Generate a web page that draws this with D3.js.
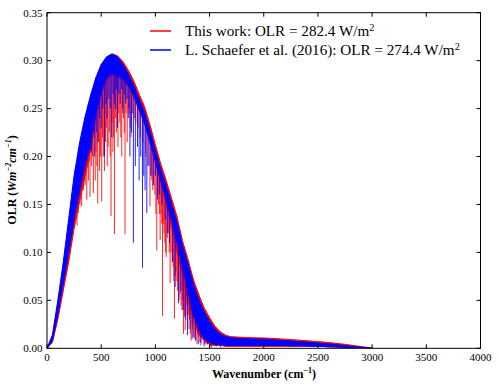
<!DOCTYPE html>
<html><head><meta charset="utf-8">
<script src="https://cdn.jsdelivr.net/npm/d3@7"></script>
<style>body{margin:0;background:#fff}svg{display:block}text{font-family:"Liberation Serif","DejaVu Serif",serif;fill:#000}</style>
</head><body><svg id="c" width="499" height="386"></svg>
<script>
const wavenumbers = [0,50,100,150,200,250,300,350,400,450,500,550,600,650,700,750,800,850,900,950,1000,1050,1100,1150,1200,1250,1300,1350,1400,1450,1500,1550,1600,1650,1700,1750,1800,1850,1900,1950,2000,2050,2100,2150,2200,2250,2300,2350,2400,2450,2500,2550,2600,2650,2700,2750,2800,2850,2900,2950,3000];
const redUpper = [0,0.012,0.045,0.082,0.125,0.168,0.205,0.236,0.26,0.28,0.294,0.303,0.307,0.305,0.299,0.29,0.279,0.265,0.252,0.233,0.212,0.192,0.175,0.156,0.137,0.112,0.093,0.072,0.056,0.042,0.032,0.023,0.017,0.0135,0.012,0.0118,0.0115,0.0113,0.011,0.0109,0.0108,0.0105,0.0102,0.0098,0.0095,0.0091,0.0087,0.0083,0.0079,0.0074,0.007,0.0065,0.006,0.0054,0.0048,0.0041,0.0034,0.0026,0.0018,0.001,0.0003];
const redLower = [0,0.006,0.03,0.06,0.09,0.125,0.153,0.178,0.205,0.24,0.265,0.28,0.285,0.283,0.28,0.273,0.262,0.248,0.234,0.214,0.193,0.172,0.15,0.125,0.1,0.075,0.05,0.03,0.015,0.008,0.004,0.003,0.003,0.002,0.002,0.002,0.002,0.002,0.002,0.002,0.002,0.002,0.002,0.002,0.002,0.002,0.002,0.002,0.002,0.002,0.002,0.0018,0.0015,0.0013,0.001,0.0008,0.0006,0.0005,0.0003,0.0002,0];
const blueUpper = [0,0.014,0.05,0.09,0.135,0.18,0.214,0.241,0.263,0.282,0.296,0.304,0.307,0.304,0.296,0.286,0.274,0.26,0.246,0.227,0.206,0.186,0.169,0.15,0.131,0.107,0.088,0.067,0.051,0.038,0.028,0.02,0.015,0.012,0.011,0.0105,0.0102,0.01,0.0098,0.0096,0.0094,0.0091,0.0088,0.0084,0.008,0.0076,0.0072,0.0068,0.0064,0.006,0.0055,0.005,0.0045,0.004,0.0034,0.0028,0.0022,0.0016,0.001,0.0005,0];
const blueLower = [0,0.008,0.035,0.068,0.1,0.135,0.163,0.19,0.21,0.245,0.268,0.283,0.287,0.285,0.282,0.275,0.264,0.25,0.236,0.216,0.195,0.175,0.155,0.133,0.11,0.085,0.06,0.035,0.02,0.01,0.006,0.004,0.004,0.003,0.003,0.003,0.003,0.003,0.003,0.003,0.003,0.003,0.003,0.003,0.003,0.0025,0.0025,0.0025,0.0025,0.002,0.002,0.002,0.0015,0.0015,0.0012,0.001,0.0008,0.0006,0.0004,0.0002,0];
// absorption lines: [wavenumber, lowest OLR]
const redDips = [[160,0.075],[172,0.085],[185,0.095],[196,0.1],[205,0.105],[214,0.11],[222,0.115],[231,0.12],[240,0.13],[250,0.125],[262,0.135],[270,0.14],[277,0.128],[289,0.141],[297,0.16],[305,0.15],[313,0.165],[320,0.148],[328,0.18],[336,0.165],[344,0.19],[352,0.17],[360,0.185],[367,0.155],[375,0.2],[382,0.175],[390,0.195],[397,0.158],[405,0.21],[412,0.19],[420,0.2],[428,0.162],[436,0.22],[445,0.175],[452,0.205],[460,0.19],[468,0.151],[476,0.215],[485,0.185],[493,0.2],[505,0.153],[512,0.22],[520,0.2],[530,0.185],[540,0.215],[548,0.23],[556,0.19],[564,0.21],[575,0.225],[583,0.2],[591,0.138],[600,0.235],[608,0.205],[615,0.22],[622,0.119],[631,0.24],[640,0.225],[648,0.25],[655,0.21],[663,0.245],[672,0.235],[681,0.22],[690,0.2],[697,0.25],[705,0.24],[713,0.225],[720,0.119],[730,0.245],[740,0.215],[750,0.25],[760,0.245],[768,0.23],[775,0.22],[790,0.245],[805,0.24],[820,0.235],[840,0.23],[860,0.22],[885,0.215],[910,0.2],[930,0.19],[950,0.148],[958,0.18],[967,0.175],[976,0.165],[985,0.17],[995,0.16],[1005,0.14],[1013,0.102],[1022,0.16],[1030,0.15],[1037,0.14],[1044,0.113],[1052,0.14],[1059,0.13],[1066,0.034],[1073,0.13],[1080,0.12],[1088,0.11],[1095,0.1],[1100,0.095],[1110,0.115],[1120,0.12],[1128,0.1],[1136,0.068],[1145,0.1],[1155,0.09],[1163,0.085],[1170,0.07],[1176,0.031],[1183,0.075],[1190,0.08],[1198,0.07],[1205,0.06],[1213,0.07],[1220,0.05],[1229,0.057],[1237,0.045],[1245,0.04],[1252,0.05],[1259,0.015],[1264,0.04],[1268,0.033],[1275,0.019],[1282,0.035],[1290,0.045],[1300,0.02],[1308,0.035],[1315,0.03],[1322,0.015],[1330,0.008],[1338,0.025],[1345,0.02],[1352,0.012],[1360,0.01],[1370,0.018],[1383,0.005],[1392,0.015],[1400,0.012],[1410,0.006],[1420,0.003],[1430,0.012],[1440,0.01],[1452,0.005],[1465,0.004],[1478,0.01],[1490,0.008],[1500,0.003],[1510,0.002],[1525,0.006],[1540,0.004],[1560,0.003],[1580,0.005],[1600,0.002]];
const blueDips = [[230,0.12],[260,0.15],[290,0.175],[320,0.19],[350,0.2],[380,0.215],[410,0.205],[440,0.2],[455,0.225],[470,0.215],[485,0.24],[500,0.23],[515,0.25],[530,0.2],[545,0.255],[555,0.24],[570,0.26],[583,0.25],[597,0.22],[610,0.265],[620,0.255],[630,0.25],[640,0.27],[650,0.23],[662,0.265],[675,0.255],[688,0.27],[700,0.245],[712,0.265],[725,0.255],[738,0.26],[750,0.24],[765,0.2],[780,0.225],[797,0.11],[815,0.19],[835,0.21],[850,0.175],[865,0.2],[881,0.084],[893,0.18],[905,0.165],[921,0.141],[940,0.19],[960,0.18],[980,0.17],[1000,0.18],[1020,0.155],[1040,0.16],[1060,0.15],[1090,0.134],[1110,0.12],[1130,0.11],[1160,0.09],[1183,0.064],[1213,0.047],[1235,0.06],[1255,0.04],[1280,0.03],[1296,0.0136],[1320,0.02],[1340,0.01],[1370,0.008],[1395,0.004],[1420,0.006],[1450,0.002],[1480,0.004],[1520,0.001],[1560,0.002],[1600,0.001]];
const xTicks = [0,500,1000,1500,2000,2500,3000,3500,4000];
const yTicks = [0,0.05,0.10,0.15,0.20,0.25,0.30,0.35];
const legendLabels = [["This work: OLR = 282.4 W/m","2"],["L. Schaefer et al. (2016): OLR = 274.4 W/m","2"]];
const legendColors = ["#ff0000","#0000ff"];

const m = {left:47, right:480.5, top:12.7, bottom:348.3};
const x = d3.scaleLinear().domain([0,4000]).range([m.left,m.right]);
const y = d3.scaleLinear().domain([0,0.35]).range([m.bottom,m.top]);
const svg = d3.select("#c");
svg.append("defs").append("clipPath").attr("id","clip").append("rect")
  .attr("x",m.left).attr("y",m.top).attr("width",m.right-m.left).attr("height",m.bottom-m.top);
const g = svg.append("g").attr("clip-path","url(#clip)");

function band(upper, lower, color){
  const data = wavenumbers.map((w,i)=>({w, u:upper[i], l:lower[i]}));
  g.append("path").datum(data)
    .attr("d", d3.area().x(d=>x(d.w)).y0(d=>y(d.l)).y1(d=>y(d.u)))
    .attr("fill",color).attr("stroke",color).attr("stroke-width",1);
}
function spikes(list, upper, color){
  const env = d3.scaleLinear().domain(wavenumbers).range(upper);
  g.selectAll(null).data(list).enter().append("line")
    .attr("x1",d=>x(d[0])).attr("x2",d=>x(d[0]))
    .attr("y1",d=>y(env(d[0]))).attr("y2",d=>y(d[1]))
    .attr("stroke",color).attr("stroke-width",1).attr("opacity",0.85);
}
band(redUpper, redLower, "#ff0000");
spikes(redDips, redUpper, "#ff0000");
band(blueUpper, blueLower, "#0000ff");
spikes(blueDips, blueUpper, "#0000ff");

// frame
svg.append("rect").attr("x",m.left).attr("y",m.top).attr("width",m.right-m.left).attr("height",m.bottom-m.top)
  .attr("fill","none").attr("stroke","#000").attr("stroke-width",1);
const tl = 4;
const ax = svg.append("g");
xTicks.forEach(t=>{
  ax.append("line").attr("x1",x(t)).attr("x2",x(t)).attr("y1",m.bottom).attr("y2",m.bottom-tl).attr("stroke","#000");
  ax.append("line").attr("x1",x(t)).attr("x2",x(t)).attr("y1",m.top).attr("y2",m.top+tl).attr("stroke","#000");
  ax.append("text").attr("x",x(t)).attr("y",361).attr("text-anchor","middle").attr("font-size",11).text(t);
});
yTicks.forEach(t=>{
  ax.append("line").attr("x1",m.left).attr("x2",m.left+tl).attr("y1",y(t)).attr("y2",y(t)).attr("stroke","#000");
  ax.append("line").attr("x1",m.right).attr("x2",m.right-tl).attr("y1",y(t)).attr("y2",y(t)).attr("stroke","#000");
  ax.append("text").attr("x",42.5).attr("y",y(t)+3.8).attr("text-anchor","end").attr("font-size",11).text(d3.format(".2f")(t));
});

// axis labels
const xl = svg.append("text").attr("x",264).attr("y",378).attr("text-anchor","middle").attr("font-size",12).attr("font-weight","bold");
xl.append("tspan").text("Wavenumber (cm");
xl.append("tspan").attr("dy",-5).attr("font-size",8).text("\u22121");
xl.append("tspan").attr("dy",5).text(")");

const yl = svg.append("text").attr("transform","translate(16,180) rotate(-90)").attr("text-anchor","middle").attr("font-size",12).attr("font-weight","bold");
yl.append("tspan").text("OLR (");
yl.append("tspan").attr("font-style","italic").text("Wm");
yl.append("tspan").attr("dy",-5).attr("font-size",8).attr("font-style","italic").text("\u22122");
yl.append("tspan").attr("dy",5).attr("font-style","italic").text("cm");
yl.append("tspan").attr("dy",-5).attr("font-size",8).attr("font-style","italic").text("\u22121");
yl.append("tspan").attr("dy",5).text(")");

// legend
const lg = svg.append("g");
const texts = [];
legendLabels.forEach((lab,i)=>{
  const cy = 31 + i*19;
  lg.append("line").attr("x1",150).attr("x2",171).attr("y1",cy).attr("y2",cy).attr("stroke",legendColors[i]).attr("stroke-width",1.5);
  const t = lg.append("text").attr("x",185).attr("y",cy+5).attr("font-size",14);
  t.append("tspan").text(lab[0]);
  t.append("tspan").attr("class","sup").attr("dy",-5.5).attr("font-size",9.5).text(lab[1]);
  texts.push(t);
});
const w2 = texts[1].node().getComputedTextLength();
const k = 275 / w2;
texts.forEach(t=>{
  t.attr("font-size",14*k);
  t.select(".sup").attr("font-size",9.5*k);
});
</script></body></html>
